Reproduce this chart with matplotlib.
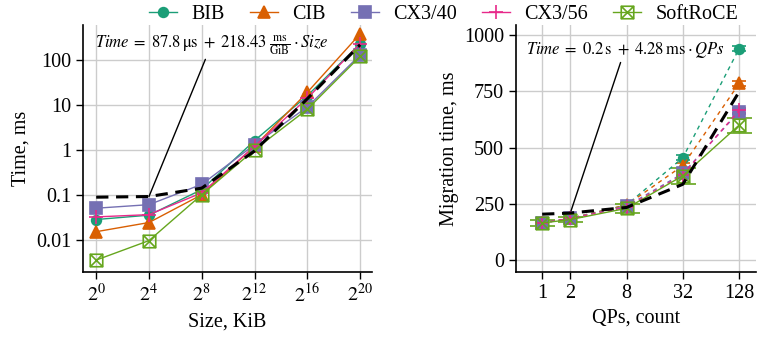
import matplotlib
matplotlib.use('Agg')
import matplotlib.pyplot as plt
import numpy as np
from matplotlib.path import Path
from matplotlib.lines import Line2D

plt.rcParams['font.family'] = ['Liberation Serif', 'DejaVu Serif']
plt.rcParams['mathtext.fontset'] = 'stix'
plt.rcParams['font.size'] = 14.5

# data: left panel (transfer time vs size)
sizes = [2**0, 2**4, 2**8, 2**12, 2**16, 2**20]
size_labels = ['$2^{0}$', '$2^{4}$', '$2^{8}$', '$2^{12}$', '$2^{16}$', '$2^{20}$']
series = ['BIB', 'CIB', 'CX3/40', 'CX3/56', 'SoftRoCE']
time_bib = [0.028, 0.035, 0.13, 1.6, 16, 230]
time_cib = [0.015, 0.024, 0.10, 1.2, 19, 380]
time_cx340 = [0.050, 0.060, 0.17, 1.3, 9, 130]
time_cx356 = [0.032, 0.036, 0.11, 1.2, 14, 230]
time_soft = [0.0035, 0.0095, 0.10, 1.0, 8, 120]
time_fit = [0.088, 0.091, 0.14, 0.94, 13.7, 218]

# data: right panel (migration time vs QPs)
qps = [1, 2, 8, 32, 128]
mig_bib = [165, 185, 245, 455, 940]
mig_cib = [165, 185, 245, 420, 785]
mig_cx340 = [165, 185, 240, 385, 660]
mig_cx356 = [165, 185, 235, 380, 665]
mig_soft = [165, 180, 230, 375, 600]
err_soft = [12, 12, 20, 35, 33]
err_other = [5, 5, 8, 10, 12]
mig_fit = [204, 209, 234, 337, 748]

colors = ['#1b9e77', '#d95f02', '#7570b3', '#e7298a', '#66a61e']

# boxed-x marker for SoftRoCE
boxx = Path([(-1, -1), (1, -1), (1, 1), (-1, 1), (-1, -1),
             (-1, -1), (1, 1), (-1, 1), (1, -1)],
            [Path.MOVETO, Path.LINETO, Path.LINETO, Path.LINETO, Path.CLOSEPOLY,
             Path.MOVETO, Path.LINETO, Path.MOVETO, Path.LINETO])
markers = ['o', '^', 's', '+', boxx]
msizes = [7, 8.5, 8, 10, 9]

fig = plt.figure(figsize=(7.6, 3.41), dpi=100)
ax1 = fig.add_axes([83/760, 1 - 272/341, 289/760, 247/341])
ax2 = fig.add_axes([516/760, 1 - 272/341, 240/760, 247/341])

left_data = [time_bib, time_cib, time_cx340, time_cx356, time_soft]
for name, vals, c, m, ms in zip(series, left_data, colors, markers, msizes):
    face = 'none' if name == 'SoftRoCE' else c
    ax1.plot(sizes, vals, color=c, lw=1, marker=m, ms=ms, mfc=face, mec=c,
             mew=1.2, zorder=3)
ax1.plot(sizes, time_fit, color='black', lw=2.2, ls=(0, (4, 2.5)), zorder=4)

ax1.set_xscale('log', base=2)
ax1.set_yscale('log')
ax1.set_xlim(2**-1, 2**20.9)
ax1.set_ylim(0.0019, 600)
ax1.set_xticks(sizes)
ax1.set_xticklabels(size_labels)
ax1.set_yticks([0.01, 0.1, 1, 10, 100])
ax1.set_yticklabels(['0.01', '0.1', '1', '10', '100'])
ax1.minorticks_off()
ax1.set_xlabel('Size, KiB')
ax1.set_ylabel('Time, ms')
ax1.annotate(r'$\mathit{Time} \;=\; 87.8\,\mathrm{\mu s} \;+\; 218.43\;\frac{\mathrm{ms}}{\mathrm{GiB}} \cdot \mathit{Size}$',
             xy=(sizes[1], time_fit[1]), xytext=(0.04, 0.92), textcoords='axes fraction',
             fontsize=12, va='center', ha='left',
             arrowprops=dict(arrowstyle='-', color='black', lw=1,
                             shrinkA=0, shrinkB=0, relpos=(0.5, 0.5)))

right_data = [mig_bib, mig_cib, mig_cx340, mig_cx356, mig_soft]
for name, vals, c, m, ms in zip(series, right_data, colors, markers, msizes):
    soft = name == 'SoftRoCE'
    face = 'none' if soft else c
    ax2.errorbar(qps, vals, yerr=err_soft if soft else err_other, color=c, lw=1,
                 ls='-' if soft else (0, (3, 3)), marker=m, ms=ms, mfc=face,
                 mec=c, mew=1.2, capsize=9 if soft else 5, elinewidth=1,
                 zorder=3)
ax2.plot(qps, mig_fit, color='black', lw=2.2, ls=(0, (4, 2.5)), zorder=4)

ax2.set_xscale('log', base=2)
ax2.set_xlim(2**-0.93, 2**7.6)
ax2.set_ylim(-53, 1045)
ax2.set_xticks(qps)
ax2.set_xticklabels([str(q) for q in qps])
ax2.set_yticks([0, 250, 500, 750, 1000])
ax2.minorticks_off()
ax2.set_xlabel('QPs, count')
ax2.set_ylabel('Migration time, ms')
ax2.annotate(r'$\mathit{Time} \;=\; 0.2\,\mathrm{s} \;+\; 4.28\,\mathrm{ms} \cdot \mathit{QPs}$',
             xy=(qps[1], mig_fit[1]), xytext=(0.04, 0.9), textcoords='axes fraction',
             fontsize=12, va='center', ha='left',
             arrowprops=dict(arrowstyle='-', color='black', lw=1,
                             shrinkA=0, shrinkB=0, relpos=(0.5, 0.5)))

for ax in (ax1, ax2):
    ax.grid(True, color='#cccccc', lw=1)
    ax.set_axisbelow(True)
    ax.spines['top'].set_visible(False)
    ax.spines['right'].set_visible(False)
    ax.spines['left'].set_linewidth(1.2)
    ax.spines['bottom'].set_linewidth(1.2)
    ax.tick_params(direction='out', length=5, width=1)

handles = []
for name, c, m, ms in zip(series, colors, markers, msizes):
    face = 'none' if name == 'SoftRoCE' else c
    handles.append(Line2D([], [], color=c, lw=1, marker=m, ms=ms, mfc=face,
                          mec=c, mew=1.2, label=name))
fig.legend(handles=handles, loc='upper right', bbox_to_anchor=(0.995, 1.04),
           ncol=5, frameon=False, handlelength=1.4, columnspacing=1.25,
           handletextpad=0.7, fontsize=14.5)

fig.savefig('out.png', dpi=100)
